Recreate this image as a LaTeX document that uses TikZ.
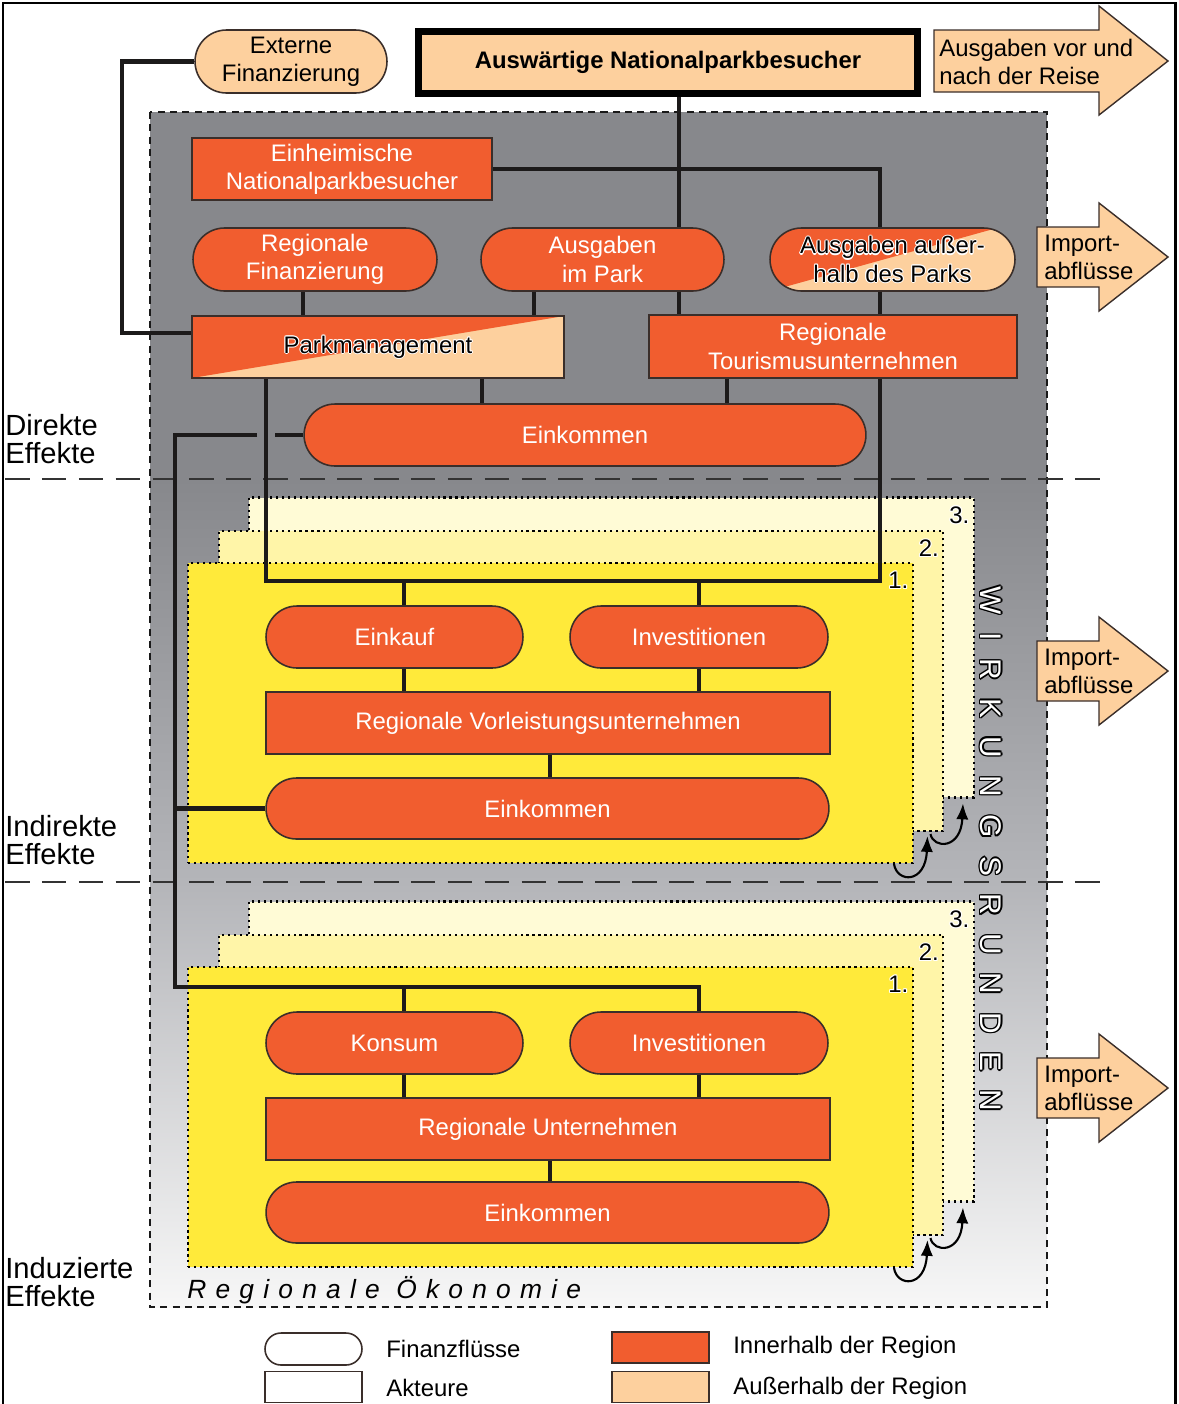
\documentclass[tikz,border=0pt]{standalone}
\usepackage{fontspec}
\setmainfont{Liberation Sans}
\usetikzlibrary{shapes.misc,calc,arrows.meta}

\definecolor{orng}{RGB}{241,93,47}
\definecolor{lorng}{RGB}{253,208,158}
\definecolor{yel}{RGB}{255,234,58}
\definecolor{yelpale}{RGB}{255,245,168}
\definecolor{yelpaler}{RGB}{255,251,214}
\definecolor{regiongray}{RGB}{135,136,140}
\definecolor{midgray}{RGB}{180,181,185}
\definecolor{endgray}{RGB}{247,247,247}
\definecolor{edge}{RGB}{58,46,42}
\definecolor{linkcol}{RGB}{28,26,26}

\newcommand{\boxfont}{\fontsize{13.6}{16}\selectfont}
% #1 halo width, #2 halo colour, #3 text colour, #4 text
\newcommand{\glowtext}[4][.6pt]{%
  \leavevmode
  \rlap{\textcolor{#2}{\kern#1#4}}%
  \rlap{\textcolor{#2}{\kern-#1#4}}%
  \rlap{\textcolor{#2}{\raisebox{#1}{#4}}}%
  \rlap{\textcolor{#2}{\raisebox{-#1}{#4}}}%
  \rlap{\textcolor{#2}{\kern.75\dimexpr#1\relax\raisebox{.75\dimexpr#1\relax}{#4}}}%
  \rlap{\textcolor{#2}{\kern-.75\dimexpr#1\relax\raisebox{.75\dimexpr#1\relax}{#4}}}%
  \rlap{\textcolor{#2}{\kern.75\dimexpr#1\relax\raisebox{-.75\dimexpr#1\relax}{#4}}}%
  \rlap{\textcolor{#2}{\kern-.75\dimexpr#1\relax\raisebox{-.75\dimexpr#1\relax}{#4}}}%
  \textcolor{#3}{#4}}

\tikzset{
  flow/.style={rounded rectangle, draw=edge, line width=0.9pt, fill=orng, text=white,
    inner sep=0pt, align=center, font=\boxfont, minimum height=1.24cm},
  actor/.style={rectangle, draw=edge, line width=0.9pt, fill=orng, text=white,
    inner sep=0pt, align=center, font=\boxfont, minimum height=1.24cm},
  outside/.style={fill=lorng, text=black},
  link/.style={draw=linkcol, line width=2.6pt},
  roundbox/.style={draw=black, line width=1.2pt, dash pattern=on 1.2pt off 2.2pt,
    minimum width=14.5cm, minimum height=6cm, inner sep=0pt},
  num/.style={anchor=north east, inner xsep=3pt, inner ysep=5pt, font=\boxfont},
  roundarrow/.style={draw=black, line width=1.2pt, -{Latex[length=9pt,width=7pt]}},
  outarrow/.style={draw=edge, line width=0.8pt, fill=lorng},
  sidelabel/.style={anchor=west, align=left, inner sep=0pt, font=\fontsize{16.6}{16}\selectfont},
  divider/.style={draw=black!80, line width=1.3pt, dash pattern=on 14pt off 7pt},
  regionborder/.style={draw=black!90, line width=1.5pt, dash pattern=on 4pt off 3pt},
}

\begin{document}
\begin{tikzpicture}[x=0.02cm, y=-0.02cm]
\useasboundingbox (0,0) rectangle (1178,1404);

% regionale Oekonomie
\fill[regiongray] (150,112) rectangle (1047,479);
\shade[top color=regiongray, bottom color=midgray] (150,479) rectangle (1047,882);
\shade[top color=midgray, bottom color=endgray] (150,882) rectangle (1047,1307);
\draw[regionborder] (150,112) rectangle (1047,1307);
\draw[divider] (5,479) -- (1107,479);
\draw[divider] (5,882) -- (1107,882);

\node[sidelabel] (direkt) at (5,439) {Direkte\\Effekte};
\node[sidelabel] (indirekt) at (5,840) {Indirekte\\Effekte};
\node[sidelabel] (induziert) at (5,1282) {Induzierte\\Effekte};
\node[anchor=west, inner sep=0pt, font=\fontsize{15}{15}\selectfont\itshape\addfontfeatures{LetterSpace=35}] (oek) at (187,1290) {Regionale Ökonomie};

% Wirkungsrunden
\foreach \dy/\s in {0/i,404/n}{
  \node[roundbox, fill=yelpaler] (\s3) at (611.5,647.5+\dy) {};
  \node[roundbox, fill=yelpale] (\s2) at (581,681+\dy) {};
  \node[roundbox, fill=yel] (\s1) at (550.5,713+\dy) {};
  \node[num] (\s3n) at (\s3.north east) {\glowtext{white}{black}{3.}};
  \node[num] (\s2n) at (\s2.north east) {\glowtext{white}{black}{2.}};
  \node[num] (\s1n) at (\s1.north east) {\glowtext{white}{black}{1.}};
  \draw[roundarrow] ($(\s1.south east)+(-20,0)$) .. controls +(3,19) and +(-2,48) .. ($(\s2.south east)+(-17,4)$);
  \draw[roundarrow] ($(\s2.south east)+(-14,2)$) .. controls +(3,15) and +(-2,46) .. ($(\s3.south east)+(-12,5)$);
}
\node[rotate=-90, anchor=west, inner sep=0pt, font=\fontsize{17}{17}\selectfont\addfontfeatures{LetterSpace=60}] (runden) at (991,586) {\glowtext[.8pt]{black}{white}{WIRKUNGSRUNDEN}};

% direkte Effekte
\node[flow, outside, minimum width=3.84cm, minimum height=1.26cm] (ext) at (291,61.5) {Externe\\Finanzierung};
\node[actor, outside, draw=black, line width=4pt, minimum width=9.98cm, font=\boxfont\bfseries] (vis) at (668,62.5) {Auswärtige Nationalparkbesucher};
\node[actor, minimum width=6cm] (einh) at (342,169) {Einheimische\\Nationalparkbesucher};
\node[flow, minimum width=4.88cm, minimum height=1.26cm] (regfin) at (315,259.5) {Regionale\\Finanzierung};
\node[flow, minimum width=4.86cm, minimum height=1.26cm] (inpark) at (602.5,259.5) {Ausgaben\\im Park};
\node[flow, outside, minimum width=4.9cm, minimum height=1.26cm,
  path picture={\fill[orng] (path picture bounding box.south west) -- ($(path picture bounding box.north east)+(-18,0)$) -- (path picture bounding box.north west) -- cycle;}]
  (outpark) at (892.5,259.5) {\glowtext{white}{black}{Ausgaben außer-}\\\glowtext{white}{black}{halb des Parks}};
\node[actor, outside, minimum width=7.44cm,
  path picture={\fill[orng] (path picture bounding box.south west) -- (path picture bounding box.north east) -- (path picture bounding box.north west) -- cycle;}]
  (pm) at (378,347) {\glowtext{white}{black}{Parkmanagement}};
\node[actor, minimum width=7.36cm, minimum height=1.26cm] (tour) at (833,346.5) {Regionale\\Tourismusunternehmen};
\node[flow, minimum width=11.24cm] (ek1) at (585,435) {Einkommen};

% indirekte Effekte
\node[flow, minimum width=5.14cm] (buy) at (394.5,637) {Einkauf};
\node[flow, minimum width=5.16cm] (inv1) at (699,637) {Investitionen};
\node[actor, minimum width=11.28cm] (sup) at (548,723) {Regionale Vorleistungsunternehmen};
\node[flow, minimum width=11.26cm, minimum height=1.22cm] (ek2) at (547.5,808.5) {Einkommen};

% induzierte Effekte
\node[flow, minimum width=5.14cm] (cons) at (394.5,1043) {Konsum};
\node[flow, minimum width=5.16cm] (inv2) at (699,1043) {Investitionen};
\node[actor, minimum width=11.28cm] (firms) at (548,1129) {Regionale Unternehmen};
\node[flow, minimum width=11.26cm, minimum height=1.22cm] (ek3) at (547.5,1212.5) {Einkommen};

% line positions
\coordinate (xl) at (122,333);
\coordinate (xv) at (679,0);
\coordinate (xo) at (880,0);
\coordinate (xr) at (303,0);
\coordinate (xp) at (534,0);
\coordinate (xe) at (482,0);
\coordinate (xt) at (727,0);
\coordinate (xa) at (404,0);
\coordinate (xi) at (699,0);
\coordinate (xs) at (550,0);
\coordinate (bl) at (266,581);
\coordinate (fb) at (175,987);
\coordinate (g1) at (257,0);
\coordinate (g2) at (275,0);

\draw[link] (ext.west) -| (xl) -- (xl -| pm.west);
\draw[link] (xv |- vis.south) -- (xv |- inpark.north);
\draw[link] (einh.east) -| (xo |- outpark.north);
\draw[link] (xr |- regfin.south) -- (xr |- pm.north);
\draw[link] (xp |- inpark.south) -- (xp |- pm.north);
\draw[link] (xv |- inpark.south) -- (xv |- tour.north);
\draw[link] (xo |- outpark.south) -- (xo |- tour.north);
\draw[link] (xe |- pm.south) -- (xe |- ek1.north);
\draw[link] (xt |- tour.south) -- (xt |- ek1.north);

\draw[link] (bl |- pm.south) -- (bl) -- (xo |- bl) -- (xo |- tour.south);
\draw[link] (xa |- bl) -- (xa |- buy.north);
\draw[link] (xi |- bl) -- (xi |- inv1.north);
\draw[link] (xa |- buy.south) -- (xa |- sup.north);
\draw[link] (xi |- inv1.south) -- (xi |- sup.north);
\draw[link] (xs |- sup.south) -- (xs |- ek2.north);

\draw[link] (ek1.west) -- (g2 |- ek1.west);
\draw[link] (g1 |- ek1.west) -| (fb) -- (xi |- fb) -- (xi |- inv2.north);
\draw[link] (ek2.west) -- (ek2.west -| fb);
\draw[link] (xa |- fb) -- (xa |- cons.north);
\draw[link] (xa |- cons.south) -- (xa |- firms.north);
\draw[link] (xi |- inv2.south) -- (xi |- firms.north);
\draw[link] (xs |- firms.south) -- (xs |- ek3.north);

% Abfluesse
\draw[outarrow] (934,30) -- (1099,30) -- (1099,6) -- (1168,61) -- (1099,115) -- (1099,92) -- (934,92) -- cycle;
\node[anchor=west, align=left, inner sep=0pt, font=\boxfont] (reise) at (939,62) {Ausgaben vor und\\nach der Reise};
\foreach \y [count=\i] in {257,671,1088}{
  \draw[outarrow] (1037,\y-30) -- (1099,\y-30) -- (1099,\y-54) -- (1168,\y) -- (1099,\y+54) -- (1099,\y+30) -- (1037,\y+30) -- cycle;
  \node[anchor=west, align=left, inner sep=0pt, font=\boxfont] (imp\i) at (1044,\y) {Import-\\abflüsse};
}

% Legende
\node[flow, fill=white, minimum width=1.94cm, minimum height=0.64cm] (legflow) at (313.5,1349) {};
\node[actor, fill=white, minimum width=1.94cm, minimum height=0.62cm] (legactor) at (313.5,1387) {};
\node[actor, minimum width=1.94cm, minimum height=0.62cm] (legin) at (660.5,1347.5) {};
\node[actor, outside, minimum width=1.94cm, minimum height=0.62cm] (legout) at (660.5,1387) {};
\node[anchor=west, inner sep=0pt, font=\boxfont] (legflowtxt) at (386,1349) {Finanzflüsse};
\node[anchor=west, inner sep=0pt, font=\boxfont] (legactortxt) at (386,1388) {Akteure};
\node[anchor=west, inner sep=0pt, font=\boxfont] (legintxt) at (733,1347) {Innerhalb der Region};
\node[anchor=west, inner sep=0pt, font=\boxfont] (legouttxt) at (733,1388) {Außerhalb der Region};

\draw[line width=1.7pt] (3,1404) -- (3,3) -- (1175,3) -- (1175,1404);
\end{tikzpicture}
\end{document}
